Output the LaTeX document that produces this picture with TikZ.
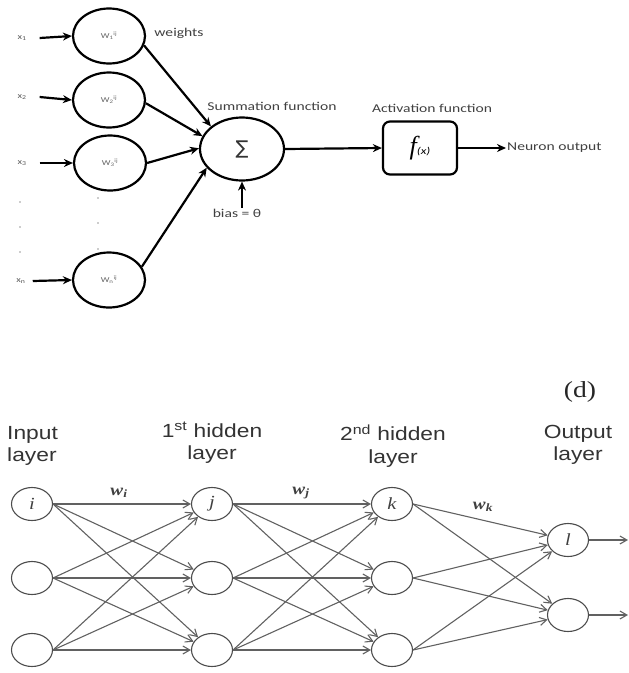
\documentclass[tikz,border=0pt]{standalone}
\usepackage{fontspec}
\setmainfont{Liberation Serif}
\newfontfamily\topfont[FakeStretch=1.3]{Carlito}
\newfontfamily\symfont{DejaVu Sans}
\newfontfamily\layerfont[FakeStretch=1.2]{Liberation Sans}
\newfontfamily\serifwide[FakeStretch=1.2]{Liberation Serif}
\usetikzlibrary{shapes.geometric,arrows.meta}
\begin{document}
\begin{tikzpicture}[x=1pt,y=-1pt,
  wnode/.style={draw, line width=2.2pt, ellipse, minimum width=72pt, minimum height=55pt, inner sep=0pt,
    font=\topfont\fontsize{7.5}{8}\selectfont, text=black!60},
  xlab/.style={font=\topfont\fontsize{8}{8}\selectfont, text=black!65, inner sep=1pt},
  toplab/.style={font=\topfont\fontsize{12}{14}\selectfont, text=black!75, inner sep=1pt},
  bigarrow/.style={line width=2.2pt, -{Stealth[length=9pt,width=8pt]}},
  dotmark/.style={circle, fill=black!40, inner sep=0pt, minimum size=1.8pt},
  neuron/.style={draw=black!70, line width=1.1pt, ellipse, minimum width=41pt, minimum height=33pt, inner sep=0pt,
    font=\serifwide\itshape\fontsize{17}{17}\selectfont, text=black!75},
  edge/.style={draw=black!62, line width=1.1pt, -{Straight Barb[length=7pt,width=8pt]}},
  laylab/.style={font=\layerfont\fontsize{19}{22.5}\selectfont, text=black!80, align=center, inner sep=0pt},
  wlab/.style={font=\serifwide\itshape\bfseries\fontsize{16}{16}\selectfont, text=black!75, inner sep=0pt}
]
\useasboundingbox (0,0) rectangle (629,673);

% ---------- top: single neuron ----------
\node[wnode] (E1) at (109,36) {W\textsubscript{1}\textsuperscript{ij}};
\node[wnode] (E2) at (109,100) {W\textsubscript{2}\textsuperscript{ij}};
\node[wnode] (E3) at (110,163) {W\textsubscript{3}\textsuperscript{ij}};
\node[wnode] (E4) at (109,280) {W\textsubscript{n}\textsuperscript{ij}};

\node[xlab] (x1) at (22,38) {x\textsubscript{1}};
\node[xlab] (x2) at (22,97) {x\textsubscript{2}};
\node[xlab] (x3) at (22,163) {x\textsubscript{3}};
\node[xlab] (xn) at (21,281) {x\textsubscript{n}};

\draw[bigarrow] ([xshift=12pt]x1.east) -- (E1.west);
\draw[bigarrow] ([xshift=12pt]x2.east) -- (E2.west);
\draw[bigarrow] ([xshift=12pt]x3.east) -- (E3.west);
\draw[bigarrow] ([xshift=6pt]xn.east) -- (E4.west);

\node[dotmark] (d1) at (20,202) {};
\node[dotmark] (d2) at (20,227) {};
\node[dotmark] (d3) at (20,252) {};
\node[dotmark] (d4) at (98,198) {};
\node[dotmark] (d5) at (98,223) {};
\node[dotmark] (d6) at (98,249) {};

\node[draw, line width=2.2pt, ellipse, minimum width=84pt, minimum height=63pt, inner sep=0pt,
  font=\symfont\fontsize{19}{19}\selectfont, text=black!80] (S) at (242,149) {∑};

\draw[bigarrow] (E1.-15) -- (S.144);
\draw[bigarrow] (E2.-5) -- (S.162);
\draw[bigarrow] (E3.0) -- (S.179);
\draw[bigarrow] (E4.22) -- (S.208);

\node[toplab] (wt) at (179,33) {weights};
\node[toplab] (sf) at (272,106) {Summation function};
\node[toplab] (af) at (432,108) {Activation function};

\node[draw, line width=2.2pt, rounded corners=7pt, minimum width=74pt, minimum height=53pt, inner sep=0pt]
  (F) at (420,148) {{\fontsize{26}{26}\selectfont\itshape f}{\topfont\itshape\fontsize{10}{10}\selectfont(x)}};

\draw[bigarrow] (S.east) -- (F.west);

\node[toplab, anchor=west] (no) at (506,148) {Neuron output};
\draw[bigarrow] (F.east) -- (no.west);

\node[toplab] (bias) at (237,213) {bias = θ};
\draw[bigarrow] (S.south |- bias.north) -- (S.south);

% ---------- bottom: network ----------
\node[font=\serifwide\fontsize{23}{23}\selectfont, text=black!85, inner sep=0pt] (dlab) at (580,392) {(d)};

\node[laylab, align=left, anchor=west] (L0) at (7,446) {Input\\layer};
\node[laylab] (L1) at (212,443) {1\textsuperscript{st} hidden\\layer};
\node[laylab] (L2) at (393,446) {2\textsuperscript{nd} hidden\\layer};
\node[laylab] (L3) at (578,445) {Output\\layer};

\node[neuron] (a1) at (32,504) {i};
\node[neuron] (a2) at (32,578) {};
\node[neuron] (a3) at (32,650) {};
\node[neuron] (b1) at (212,504) {j};
\node[neuron] (b2) at (212,578) {};
\node[neuron] (b3) at (212,650) {};
\node[neuron] (c1) at (392,504) {k};
\node[neuron] (c2) at (392,578) {};
\node[neuron] (c3) at (392,650) {};
\node[neuron] (o1) at (568,540) {l};
\node[neuron] (o2) at (568,615) {};

\foreach \s in {a1,a2,a3} \foreach \t in {b1,b2,b3} \draw[edge] (\s.east) -- (\t);
\foreach \s in {b1,b2,b3} \foreach \t in {c1,c2,c3} \draw[edge] (\s.east) -- (\t);
\foreach \s in {c1,c2,c3} \foreach \t in {o1,o2} \draw[edge] (\s.east) -- (\t);

\coordinate (r1) at (628,540);
\coordinate (r2) at (628,615);
\draw[edge] (o1.east) -- (r1);
\draw[edge] (o2.east) -- (r2);

\node[wlab] (wi) at (119,493) {w\textsubscript{i}};
\node[wlab] (wj) at (301,493) {w\textsubscript{j}};
\node[wlab] (wk) at (483,507) {w\textsubscript{k}};
\end{tikzpicture}
\end{document}
